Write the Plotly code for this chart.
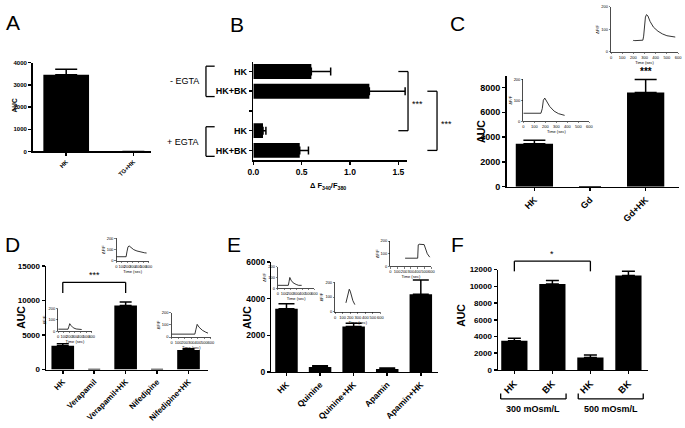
import plotly.graph_objects as go

W, H = 685, 428
FONT = "Liberation Sans, Arial, sans-serif"

# ---------------- data ----------------
a_categories = ["HK", "TG+HK"]
a_auc = [3450, 0]
a_sem = [250, None]

b_labels = ["HK", "HK+BK", " ", "HK", "HK+BK"]
b_pos = [0, 1, 2, 3, 4]
b_ratio = [0.60, 1.20, None, 0.10, 0.48]
b_sem = [0.20, 0.37, None, 0.03, 0.09]
b_groups = ["- EGTA", "+ EGTA"]
b_xticks = [0, 0.5, 1.0, 1.5]
b_xticktext = ["0.0", "0.5", "1.0", "1.5"]

c_categories = ["HK", "Gd", "Gd+HK"]
c_auc = [3450, 0, 7600]
c_sem = [300, None, 1050]

d_categories = ["HK", "Verapamil", "Verapamil+HK", "Nifedipine", "Nifedipine+HK"]
d_auc = [3450, 0, 9250, 0, 2820]
d_sem = [280, None, 500, None, 200]

e_categories = ["HK", "Quinine", "Quinine+HK", "Apamin", "Apamin+HK"]
e_auc = [3450, 270, 2480, 160, 4250]
e_sem = [280, 70, 180, 50, 770]

f_labels = ["HK", "BK", "HK", "BK"]
f_pos = [0, 1, 2, 3]
f_auc = [3500, 10300, 1500, 11300]
f_sem = [300, 400, 300, 520]
f_groups = ["300 mOsm/L", "500 mOsm/L"]

# inset calcium traces (time in s, ratio)
c_top_time = [197, 205, 212, 285, 292, 300, 308, 318, 330, 350, 380, 420, 460, 500, 540, 575]
c_top_ratio = [48, 52, 50, 52, 70, 120, 155, 166, 160, 135, 110, 92, 80, 72, 68, 66]
c_in_time = [0, 160, 172, 182, 195, 210, 240, 280, 320, 375]
c_in_ratio = [38, 38, 60, 100, 110, 95, 70, 48, 36, 28]
d_top_time = [0, 180, 195, 215, 236, 270, 320, 380, 450, 520, 558]
d_top_ratio = [37, 37, 80, 125, 133, 118, 100, 88, 78, 72, 70]
d_left_time = [0, 176, 190, 206, 230, 270, 320, 365, 420]
d_left_ratio = [18, 18, 40, 67, 50, 30, 20, 15, 15]
d_right_time = [0, 355, 370, 390, 420, 470, 520, 555]
d_right_ratio = [24, 24, 60, 104, 80, 55, 40, 32]
e_left_time = [0, 170, 182, 195, 215, 250, 300, 340, 390]
e_left_ratio = [27, 27, 60, 100, 75, 50, 35, 27, 27]
e_mid_time = [143, 160, 175, 187, 200, 215, 235, 261]
e_mid_ratio = [60, 100, 140, 153, 140, 110, 75, 48]
e_right_time = [216, 400, 408, 420, 494, 510, 540, 576]
e_right_ratio = [65, 65, 170, 175, 172, 140, 100, 73]
inset_xticks = [0, 100, 200, 300, 400, 500, 600]
inset_yticks = [0, 100, 200]

# ---------------- layout geometry (pixels: x0, x1, ytop, ybottom) ----------------
boxes = {
    "A": (27, 147, 59, 150),
    "B": (251, 407, 58, 159),
    "C": (508, 683, 73, 186),
    "Ct": (614, 682, 2, 48),
    "Ci": (525, 592, 76, 119),
    "D": (40.7, 205, 267, 373.3),
    "Dt": (112, 145, 239, 262),
    "Dl": (53, 87, 311, 334),
    "Dr": (168, 208, 315, 340),
    "E": (269.3, 438, 263.3, 375.7),
    "El": (276, 313, 268, 290),
    "Em": (334, 380, 284, 314),
    "Er": (390, 431.7, 241.7, 267.7),
    "F": (499.3, 651.7, 271, 373.7),
}
xr = {"A": [-0.5, 1.26], "B": [0, 1.59], "C": [-0.5, 2.6], "D": [-0.53, 4.62],
      "E": [-0.45, 4.5], "F": [-0.43, 3.52]}
yr = {"A": [0, 4000], "B": [4.5, -0.5], "C": [0, 8900], "D": [0, 15000],
      "E": [0, 6000], "F": [0, 12000]}
insets = ["Ct", "Ci", "Dt", "Dl", "Dr", "El", "Em", "Er"]
for p in insets:
    xr[p] = [0, 600]
    yr[p] = [0, 200]

panels = list(boxes.keys())
idx = {p: i + 1 for i, p in enumerate(panels)}


def refs(p):
    i = idx[p]
    return ("x" if i == 1 else f"x{i}"), ("y" if i == 1 else f"y{i}")


def to_paper(p, xv, yv):
    x0, x1, yt, yb = boxes[p]
    px = x0 + (xv - xr[p][0]) / (xr[p][1] - xr[p][0]) * (x1 - x0)
    py = yb - (yv - yr[p][0]) / (yr[p][1] - yr[p][0]) * (yb - yt)
    return px / W, 1 - py / H


def xpaper(p, xv):
    x0, x1, yt, yb = boxes[p]
    return (x0 + (xv - xr[p][0]) / (xr[p][1] - xr[p][0]) * (x1 - x0)) / W


fig = go.Figure()


def err(arr, w):
    return dict(type="data", array=arr, arrayminus=[0] * len(arr), symmetric=False,
                color="black", thickness=1.5, width=w, visible=True)


def bar(p, x, y, sem, width, w):
    xa, ya = refs(p)
    fig.add_trace(go.Bar(x=x, y=y, error_y=err(sem, w), width=width,
                         marker=dict(color="black", line=dict(width=0)),
                         xaxis=xa, yaxis=ya, showlegend=False))


bar("A", a_categories, a_auc, a_sem, 0.68, 11)
xa, ya = refs("B")
fig.add_trace(go.Bar(x=b_ratio, y=b_pos, orientation="h", width=0.75,
                     error_x=err(b_sem, 4),
                     marker=dict(color="black", line=dict(width=0)),
                     xaxis=xa, yaxis=ya, showlegend=False))
bar("C", c_categories, c_auc, c_sem, 0.67, 11)
bar("D", d_categories, d_auc, d_sem, 0.72, 6)
bar("E", e_categories, e_auc, e_sem, 0.67, 8)
bar("F", f_pos, f_auc, f_sem, 0.69, 6.5)

inset_data = {
    "Ct": (c_top_time, c_top_ratio), "Ci": (c_in_time, c_in_ratio),
    "Dt": (d_top_time, d_top_ratio), "Dl": (d_left_time, d_left_ratio),
    "Dr": (d_right_time, d_right_ratio), "El": (e_left_time, e_left_ratio),
    "Em": (e_mid_time, e_mid_ratio), "Er": (e_right_time, e_right_ratio),
}
for p, (t, r) in inset_data.items():
    xa, ya = refs(p)
    fig.add_trace(go.Scatter(x=t, y=r, mode="lines", line=dict(color="black", width=0.8),
                             xaxis=xa, yaxis=ya, showlegend=False, hoverinfo="skip"))

layout = dict(width=W, height=H, margin=dict(l=0, r=0, t=0, b=0), autosize=False,
              paper_bgcolor="white", plot_bgcolor="rgba(0,0,0,0)", showlegend=False,
              font=dict(family=FONT, color="black"))


def tf(size, bold=True):
    d = dict(family=FONT, size=size, color="black")
    if bold:
        d["weight"] = "bold"
    return d


main_style = dict(showline=True, linecolor="black", linewidth=1.5, ticks="outside",
                  ticklen=3, tickwidth=1.5, tickcolor="black", showgrid=False,
                  zeroline=False, fixedrange=True)
inset_style = dict(showline=True, linecolor="black", linewidth=0.7, ticks="outside",
                   ticklen=1.5, tickwidth=0.5, tickcolor="black", showgrid=False,
                   zeroline=False, fixedrange=True, tickfont=tf(4, False), tickangle=0)

tick_sizes = {"A": 6, "B": 8.5, "C": 9, "D": 8, "E": 8.5, "F": 8}
for p in panels:
    i = idx[p]
    x0, x1, yt, yb = boxes[p]
    xk = "xaxis" if i == 1 else f"xaxis{i}"
    yk = "yaxis" if i == 1 else f"yaxis{i}"
    xa, ya = refs(p)
    xd = [x0 / W, x1 / W]
    yd = [1 - yb / H, 1 - yt / H]
    if p in insets:
        layout[xk] = dict(inset_style, domain=xd, range=xr[p], anchor=ya, tickvals=inset_xticks,
                          title=dict(text="Time (sec)", font=tf(4, False), standoff=0))
        layout[yk] = dict(inset_style, domain=yd, range=yr[p], anchor=xa, tickvals=inset_yticks,
                          title=dict(text="ΔF/F", font=tf(4, False), standoff=1))
    else:
        s = tick_sizes[p]
        xs = dict(main_style, domain=xd, range=xr[p], anchor=ya, tickfont=tf(s))
        ys = dict(main_style, domain=yd, range=yr[p], anchor=xa, tickfont=tf(s), tickformat="d")
        if p == "B":
            xs.update(tickvals=b_xticks, ticktext=b_xticktext)
            ys.update(tickvals=b_pos, ticktext=b_labels, tickfont=tf(9), tickformat=None)
        else:
            xs.update(tickangle=-45)
            if p == "F":
                xs.update(tickvals=f_pos, ticktext=f_labels, tickfont=tf(9.5))
            else:
                xs.update(type="category")
        if p == "A":
            ys.update(tickvals=[0, 1000, 2000, 3000, 4000])
        if p == "C":
            ys.update(tickvals=[0, 2000, 4000, 6000, 8000])
        if p == "D":
            ys.update(tickvals=[0, 5000, 10000, 15000])
        if p == "E":
            ys.update(tickvals=[0, 2000, 4000, 6000])
        if p == "F":
            ys.update(tickvals=[0, 2000, 4000, 6000, 8000, 10000, 12000])
        layout[xk] = xs
        layout[yk] = ys

fig.update_layout(**layout)


# ---------------- annotations & brackets ----------------
def ann(text, x, y, size, bold=False, angle=0, xanchor="center", yanchor="middle"):
    fig.add_annotation(text=f"<b>{text}</b>" if bold else text, x=x, y=y,
                       xref="paper", yref="paper", showarrow=False,
                       font=dict(family=FONT, size=size, color="black"),
                       textangle=angle, xanchor=xanchor, yanchor=yanchor)


def px(xp, yp):
    return xp / W, 1 - yp / H


def line(p0, p1, w=1.3):
    fig.add_shape(type="line", x0=p0[0], y0=p0[1], x1=p1[0], y1=p1[1],
                  xref="paper", yref="paper", line=dict(color="black", width=w))


# panel letters
for letter, (lx, ly) in {"A": (7, 18), "B": (234, 20), "C": (458, 19),
                         "D": (7, 245), "E": (231, 245), "F": (458, 245)}.items():
    ann(letter, *px(lx, ly), 21)

# AUC titles
ann("AUC", *px(9, 103), 6.5, bold=True, angle=-90)
ann("AUC", *px(482, 129), 10.5, bold=True, angle=-90)
ann("AUC", *px(14.5, 320), 10.5, bold=True, angle=-90)
ann("AUC", *px(244, 320), 10.5, bold=True, angle=-90)
ann("AUC", *px(461, 318), 10.5, bold=True, angle=-90)

# panel B decorations
ann("Δ F<sub>340</sub>/F<sub>380</sub>", *px(327, 185), 7.5, bold=True)
for g, (lo, hi) in zip(b_groups, [(-0.27, 1.27), (2.8, 4.3)]):
    xl, xrt = xpaper("B", -0.49), xpaper("B", -0.40)
    ylo = to_paper("B", 0, lo)[1]
    yhi = to_paper("B", 0, hi)[1]
    line((xl, ylo), (xl, yhi))
    line((xl, ylo), (xrt, ylo))
    line((xl, yhi), (xrt, yhi))
    ann(g, xpaper("B", -0.54), (ylo + yhi) / 2, 9, xanchor="right")

for (xa0, xa1, c0, c1) in [(1.5, 1.6, 0, 3), (1.8, 1.9, 1, 4)]:
    p_top = to_paper("B", xa1, c0)
    p_bot = to_paper("B", xa1, c1)
    line(to_paper("B", xa0, c0), p_top)
    line(p_top, p_bot)
    line(to_paper("B", xa0, c1), p_bot)
    ann("***", p_top[0] + 10 / W, (p_top[1] + p_bot[1]) / 2 - 3 / H, 9, xanchor="center")

# panel C significance
cx, cy = to_paper("C", 2, c_auc[2] + c_sem[2])
ann("***", cx, cy + 0.5 / H, 10, bold=True, yanchor="bottom")

# panel D bracket
d_hi, d_lo = 12600, 11060
line(to_paper("D", 0, d_lo), to_paper("D", 0, d_hi))
line(to_paper("D", 0, d_hi), to_paper("D", 2, d_hi))
line(to_paper("D", 2, d_hi), to_paper("D", 2, d_lo))
ann("***", *to_paper("D", 1, d_hi), 9, yanchor="bottom")

# panel F brackets
f_hi, f_lo = 13020, 11800
line(to_paper("F", 0, f_lo), to_paper("F", 0, f_hi))
line(to_paper("F", 0, f_hi), to_paper("F", 2, f_hi))
line(to_paper("F", 2, f_hi), to_paper("F", 2, f_lo))
ann("*", *to_paper("F", 1, f_hi), 9, yanchor="bottom")
for g, (s0, s1) in zip(f_groups, [(-0.36, 1.36), (1.68, 3.39)]):
    yb = 1 - 403.3 / H
    yt = 1 - 397.7 / H
    line((xpaper("F", s0), yb), (xpaper("F", s1), yb))
    line((xpaper("F", s0), yb), (xpaper("F", s0), yt))
    line((xpaper("F", s1), yb), (xpaper("F", s1), yt))
    ann(g, xpaper("F", (s0 + s1) / 2), 1 - 414 / H, 9, bold=True)

fig.write_html("out.html", config={"displayModeBar": False, "staticPlot": True},
               post_script="document.body.style.margin='0';document.body.style.overflow='hidden';")
